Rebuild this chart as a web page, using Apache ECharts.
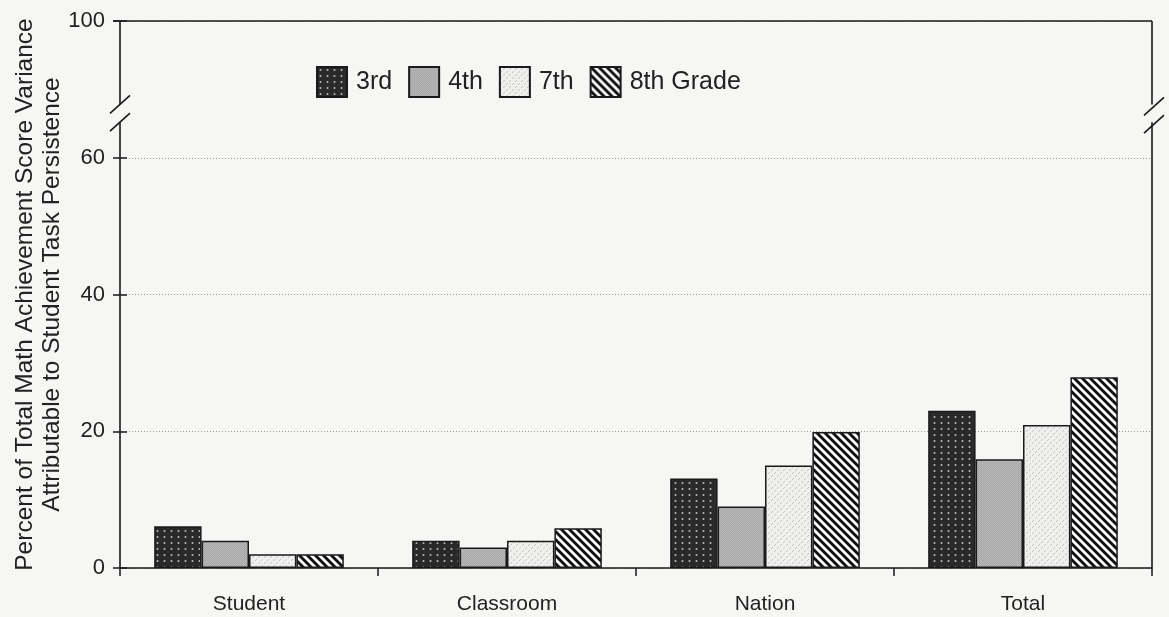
<!DOCTYPE html>
<html><head><meta charset="utf-8">
<script src="https://cdn.jsdelivr.net/npm/echarts@6/dist/echarts.min.js"></script>
<style>html,body{margin:0;padding:0;background:#f6f6f4}#c{width:1169px;height:617px}</style>
</head><body><div id="c"></div>
<script>
// ---- data ----
const categories = ['Student', 'Classroom', 'Nation', 'Total'];
const seriesNames = ['3rd', '4th', '7th', '8th Grade'];
const grade3 = [6.1, 4.0, 13.1, 23.0];
const grade4 = [4.0, 3.0, 9.0, 15.9];
const grade7 = [2.0, 4.0, 15.0, 20.9];
const grade8 = [2.0, 5.8, 19.9, 27.9];
// axis: values 0..60 are true scale; the top tick (80 on the scale) is labelled 100 above a break
const yTickLabels = { 0: '0', 20: '20', 40: '40', 60: '60', 80: '100' };
const yScaleMax = 80;
const breakUpperValue = 67.8;
const breakLowerValue = 65.2;
const yName = 'Percent of Total Math Achievement Score Variance\nAttributable to Student Task Persistence';

// ---- layout ----
const W = 1169, H = 617;
const GRID = { left: 120, right: 17, top: 21, bottom: 49 };
const FONT = '"Liberation Sans", Arial, sans-serif';
const INK = '#1a1a1a';

function makePattern(w, h, draw) {
  const c = document.createElement('canvas');
  c.width = w; c.height = h;
  const g = c.getContext('2d');
  draw(g, w, h);
  return { image: c, repeat: 'repeat' };
}
const pat3 = makePattern(7, 6, (g, w, h) => {
  g.fillStyle = '#2a2a2a'; g.fillRect(0, 0, w, h);
  g.fillStyle = '#bdbdbd'; g.beginPath(); g.arc(3.5, 3, 1.0, 0, Math.PI * 2); g.fill();
});
const pat4 = makePattern(4, 4, (g, w, h) => {
  g.fillStyle = '#b9b9b9'; g.fillRect(0, 0, w, h);
  g.fillStyle = '#a6a6a6';
  for (let i = 0; i < 4; i++) for (let j = 0; j < 4; j++) if ((i + j) % 2) g.fillRect(i, j, 1, 1);
});
const pat7 = makePattern(6, 6, (g, w, h) => {
  g.fillStyle = '#efefed'; g.fillRect(0, 0, w, h);
  g.fillStyle = '#c2c2c2';
  g.fillRect(4, 1, 1, 1); g.fillRect(3, 2, 1, 1);
  g.fillRect(1, 4, 1, 1); g.fillRect(0, 5, 1, 1);
});
const pat8 = makePattern(8, 8, (g, w, h) => {
  g.fillStyle = '#f9f9f9'; g.fillRect(0, 0, w, h);
  g.strokeStyle = '#111'; g.lineWidth = 2.8;
  for (const x of [-8, 0, 8]) { g.beginPath(); g.moveTo(x - 1, -1); g.lineTo(x + 9, 9); g.stroke(); }
});
const patterns = [pat3, pat4, pat7, pat8];
const values = [grade3, grade4, grade7, grade8];

const chart = echarts.init(document.getElementById('c'), null, { renderer: 'canvas' });

const yAxisBase = {
  type: 'value', min: 0, max: yScaleMax, interval: 20,
  axisLine: { show: false },
};

chart.setOption({
  animation: false,
  backgroundColor: '#f6f6f4',
  textStyle: { fontFamily: FONT },
  grid: { left: GRID.left, right: GRID.right, top: GRID.top, bottom: GRID.bottom,
    containLabel: false, outerBoundsMode: 'none' },
  legend: {
    left: 311, top: 61, itemWidth: 30, itemHeight: 30, itemGap: 16,
    icon: 'rect',
    textStyle: { fontSize: 25, color: '#222', fontFamily: FONT, padding: [0, 0, 0, 4] },
    data: seriesNames,
    selectedMode: false
  },
  xAxis: {
    type: 'category', data: categories,
    axisLine: { lineStyle: { color: INK, width: 1.5 } },
    axisTick: { show: true, length: 8, lineStyle: { color: INK, width: 1.5 } },
    axisLabel: { fontSize: 21, color: '#222', margin: 26, fontFamily: FONT },
    splitLine: { show: false }
  },
  yAxis: [
    Object.assign({}, yAxisBase, {
      name: yName, nameLocation: 'middle', nameGap: 54, nameRotate: 90, nameMoveOverlap: false,
      nameTextStyle: { fontSize: 24.5, color: '#222', lineHeight: 27, fontFamily: FONT },
      axisTick: { show: true, length: 7, lineStyle: { color: INK, width: 1.5 } },
      axisLabel: { fontSize: 22, color: '#222', margin: 15, fontFamily: FONT,
        formatter: v => (yTickLabels[v] !== undefined ? yTickLabels[v] : '') },
      splitLine: { show: true, lineStyle: { color: '#9a9a9a', width: 1, type: [1, 2] } }
    }),
    Object.assign({}, yAxisBase, {
      position: 'left',
      axisTick: { show: true, inside: true, length: 7, lineStyle: { color: INK, width: 1.5 } },
      axisLabel: { show: false },
      splitLine: { show: false }
    })
  ],
  series: seriesNames.map((name, i) => ({
    name, type: 'bar', data: values[i], yAxisIndex: 0,
    barGap: '0%', barCategoryGap: '26.5%',
    itemStyle: { color: patterns[i], borderColor: INK, borderWidth: 1.5 },
    emphasis: { disabled: true }
  }))
});

// frame with axis breaks (decoration, positioned from the axis scale)
const L = GRID.left, R = W - GRID.right, T = GRID.top, B = H - GRID.bottom;
const yb1 = chart.convertToPixel({ yAxisIndex: 0 }, breakUpperValue);
const yb2 = chart.convertToPixel({ yAxisIndex: 0 }, breakLowerValue);
const ls = { stroke: INK, lineWidth: 1.6 };
function seg(x1, y1, x2, y2) { return { type: 'line', shape: { x1, y1, x2, y2 }, style: ls, silent: true, z: 100 }; }
function slash(cx, cy) { return seg(cx - 10, cy + 9, cx + 10, cy - 9); }
chart.setOption({
  graphic: [
    seg(L - 7, T, R, T),
    seg(L, T, L, yb1), seg(L, yb2, L, B),
    slash(L, yb1), slash(L, yb2),
    seg(R, T, R, yb1), seg(R, yb2, R, B),
    slash(R + 2, yb1 + 2), slash(R + 2, yb2 + 2)
  ]
});
</script>
</body></html>
